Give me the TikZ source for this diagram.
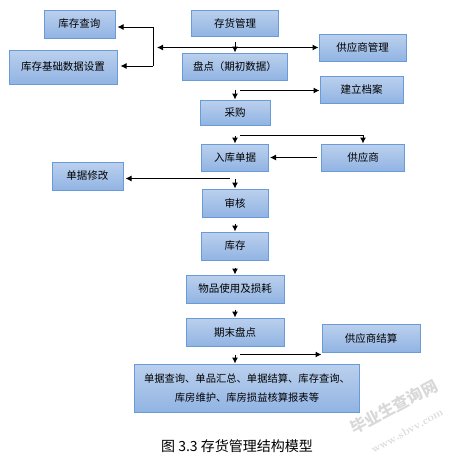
\documentclass[tikz,border=0pt]{standalone}
\usepackage{fontspec}
\newfontfamily\cjk{Noto Sans CJK SC}
\usetikzlibrary{positioning,arrows.meta}
\definecolor{boxtop}{RGB}{187,208,237}
\definecolor{boxbot}{RGB}{145,180,227}
\definecolor{boxline}{RGB}{104,155,215}
\begin{document}
\begin{tikzpicture}[x=1pt, y=-1pt, node distance=16pt,
    box/.style={draw=boxline, line width=1pt, top color=boxtop, bottom color=boxbot,
        minimum height=27pt, inner sep=2pt, font=\cjk\fontsize{10.5}{12}\selectfont},
    arr/.style={-{Latex[length=6pt,width=6pt]}, line width=1pt},
    arrboth/.style={{Latex[length=6pt,width=6pt]}-{Latex[length=6pt,width=6pt]}, line width=1pt},
    wmtext/.style={font=\cjk\bfseries\fontsize{16}{16}\selectfont, text=gray!30, inner sep=0pt}]
    \useasboundingbox (0,0) rectangle (467,459);

    \node[box, minimum width=87pt, minimum height=26pt] (cunhuo) at (235,23) {存货管理};
    \node[box, below=16pt of cunhuo, minimum width=105pt] (pandian) {盘点（期初数据）};
    \node[box, below=19pt of pandian, minimum width=70pt, minimum height=25pt] (caigou) {采购};
    \node[box, below=18pt of caigou, minimum width=67pt] (ruku) {入库单据};
    \node[box, below=17pt of ruku, minimum width=66pt, minimum height=28pt] (shenhe) {审核};
    \node[box, below=14pt of shenhe, minimum width=67pt, minimum height=28pt] (kucun) {库存};
    \node[box, below=14pt of kucun, minimum width=98pt, minimum height=28pt] (wupin) {物品使用及损耗};
    \node[box, below=14pt of wupin, minimum width=98pt, minimum height=28pt] (qimo) {期末盘点};
    \node[box, below=17pt of qimo, xshift=12pt, minimum width=225pt, minimum height=48pt, align=center,
        font=\cjk\fontsize{10.3}{19}\selectfont] (chaxun)
        {单据查询、单品汇总、单据结算、库存查询、\\库房维护、库房损益核算报表等};

    \node[box, minimum width=87pt] (gysgl) at (362.5,47.5) {供应商管理};
    \node[box, minimum width=83pt] (dangan) at (361.5,89.5) {建立档案};
    \node[box, right=52pt of ruku, minimum width=83pt] (gys) {供应商};
    \node[box, minimum width=98pt, minimum height=28pt] (gysjs) at (371,338) {供应商结算};

    \node[box, minimum width=71pt, minimum height=28pt] (kccx) at (79.5,24) {库存查询};
    \node[box, minimum width=108pt, minimum height=34pt] (kcjc) at (63,67) {库存基础数据设置};
    \node[box, minimum width=71pt, minimum height=28pt] (djxg) at (87.5,176) {单据修改};

    \coordinate (t0) at (157,47.5);
    \coordinate (t1) at (153,27);
    \coordinate (t2) at (153,66);
    \coordinate (j1) at ([xshift=5pt,yshift=-10pt]pandian.south);
    \coordinate (j2) at ([xshift=5pt,yshift=-10pt]caigou.south);
    \coordinate (j3) at ([xshift=-5pt,yshift=-7pt]ruku.south);
    \coordinate (j4) at ([xshift=5pt,yshift=-8pt]qimo.south);

    \draw[arr, shorten <=5pt] (cunhuo) -- (pandian);
    \draw[arrboth] (t0) -- (gysgl.west);
    \draw[line width=1pt] (t1) -- (t2);
    \draw[arr, shorten >=2pt] (t1) -- (t1 -| kccx.east);
    \draw[arr, shorten >=3pt] (t2) -- (t2 -| kcjc.east);

    \draw[arr, shorten <=9pt] (pandian) -- (caigou);
    \draw[arr] (j1) -- (j1 -| dangan.west);
    \draw[arr, shorten <=10pt] (caigou) -- (ruku);
    \draw[arr] (j2) -| (gys.north);
    \draw[arr, shorten <=4pt, shorten >=1pt] (gys) -- (ruku);
    \draw[arr, shorten <=7pt] (ruku) -- (shenhe);
    \draw[arr, shorten >=2pt] (j3) -- (j3 -| djxg.east);
    \draw[arr, shorten <=6pt] (shenhe) -- (kucun);
    \draw[arr, shorten <=7pt] (kucun) -- (wupin);
    \draw[arr, shorten <=6pt] (wupin) -- (qimo);
    \draw[arr, shorten <=8pt] (qimo.south) -- (qimo.south |- chaxun.north);
    \draw[arr] (j4) -- (j4 -| gysjs.west);

    \node[font=\cjk\fontsize{14}{14}\selectfont] (caption) at (237,446) {图 3.3 存货管理结构模型};

    \node[wmtext, rotate=28] (wmname) at (394,407) {毕业生查询网};
    \node[wmtext, rotate=29, font=\rmfamily\bfseries\fontsize{11}{11}\selectfont\addfontfeature{LetterSpace=30}]
        (wmurl) at (407,431) {www.sbvv.com};
\end{tikzpicture}
\end{document}
